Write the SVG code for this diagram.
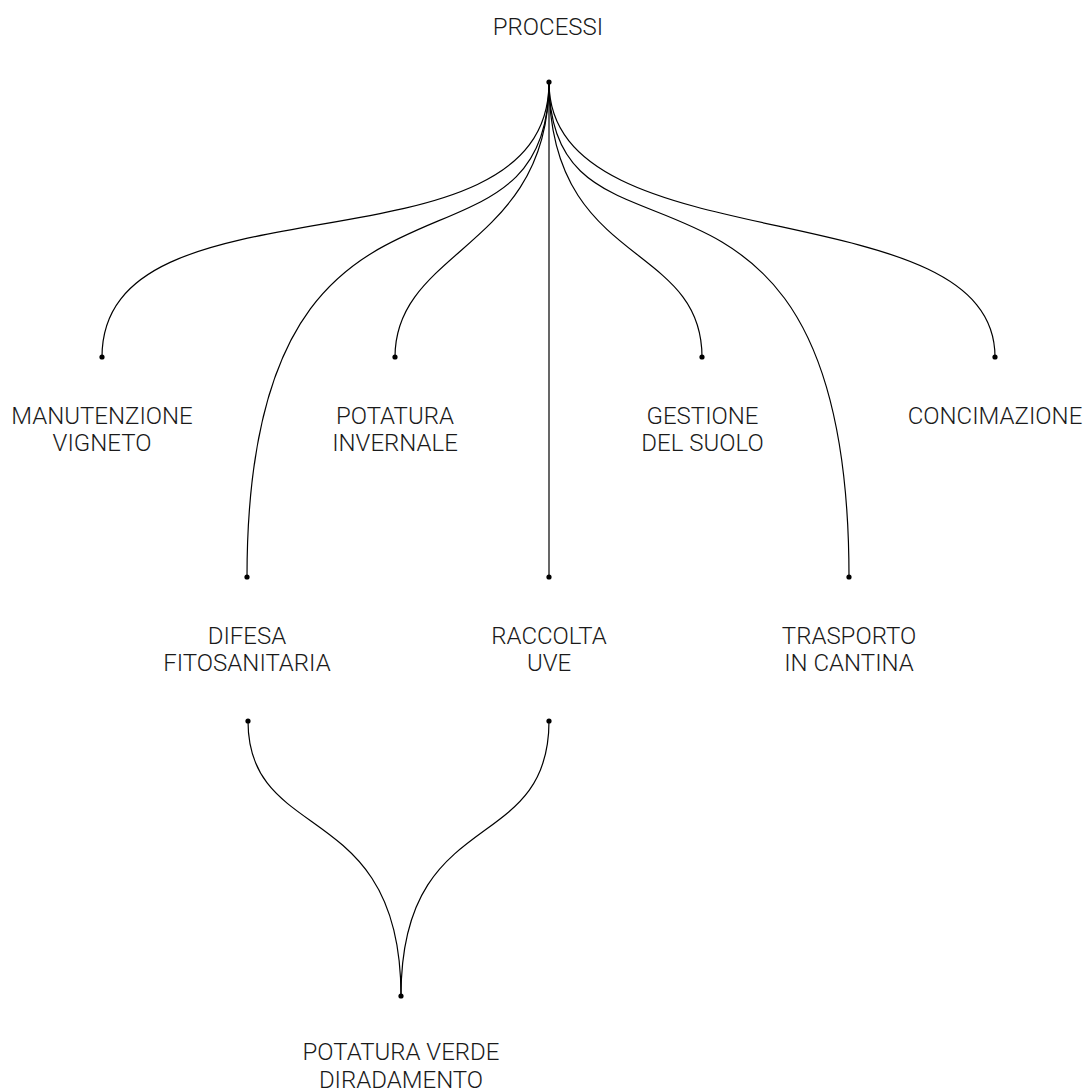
<svg xmlns="http://www.w3.org/2000/svg" width="1083" height="1092" viewBox="0 0 1083 1092">
  <style>
    .lbl { font-family: Roboto, "Liberation Sans", sans-serif; font-weight: 300; font-size: 24px; fill: #1a1a1a; text-anchor: middle; }
    .link { fill: none; stroke: #000; stroke-width: 1.2; }
    .dot { fill: #000; }
  </style>
  <rect width="1083" height="1092" fill="#fff"/>
  <g id="connectors">
    <path class="link" d="M549,82 C549,285 102,165 102,357"/>
    <path class="link" d="M549,82 C549,308 247,109 247,577"/>
    <path class="link" d="M549,82 C549,248 395,248 395,357"/>
    <path class="link" d="M549,82 L549,577"/>
    <path class="link" d="M549,82 C549,268 702,240 702,357"/>
    <path class="link" d="M549,82 C549,300 849,93 849,577"/>
    <path class="link" d="M549,82 C549,267 995,186 995,357"/>
    <path class="link" d="M248,721 C248,846 401,797 401,996"/>
    <path class="link" d="M549,721 C549,858 401,803 401,996"/>
  </g>
  <g id="processi">
    <text class="lbl" x="548" y="35">PROCESSI</text>
    <circle class="dot" cx="549" cy="82" r="2.6"/>
  </g>
  <g id="manutenzione-vigneto">
    <circle class="dot" cx="102" cy="357" r="2.6"/>
    <text class="lbl" x="102" y="423.5">MANUTENZIONE</text>
    <text class="lbl" x="102" y="451">VIGNETO</text>
  </g>
  <g id="potatura-invernale">
    <circle class="dot" cx="395" cy="357" r="2.6"/>
    <text class="lbl" x="395" y="423.5">POTATURA</text>
    <text class="lbl" x="395" y="451">INVERNALE</text>
  </g>
  <g id="gestione-del-suolo">
    <circle class="dot" cx="702" cy="357" r="2.6"/>
    <text class="lbl" x="702.5" y="423.5">GESTIONE</text>
    <text class="lbl" x="702.5" y="451">DEL SUOLO</text>
  </g>
  <g id="concimazione">
    <circle class="dot" cx="995" cy="357" r="2.6"/>
    <text class="lbl" x="995" y="423.5">CONCIMAZIONE</text>
  </g>
  <g id="difesa-fitosanitaria">
    <circle class="dot" cx="247" cy="577" r="2.6"/>
    <text class="lbl" x="247" y="643.5">DIFESA</text>
    <text class="lbl" x="247" y="671">FITOSANITARIA</text>
    <circle class="dot" cx="248" cy="721" r="2.6"/>
  </g>
  <g id="raccolta-uve">
    <circle class="dot" cx="549" cy="577" r="2.6"/>
    <text class="lbl" x="549" y="643.5">RACCOLTA</text>
    <text class="lbl" x="549" y="671">UVE</text>
    <circle class="dot" cx="549" cy="721" r="2.6"/>
  </g>
  <g id="trasporto-in-cantina">
    <circle class="dot" cx="849" cy="577" r="2.6"/>
    <text class="lbl" x="849" y="643.5">TRASPORTO</text>
    <text class="lbl" x="849" y="671">IN CANTINA</text>
  </g>
  <g id="potatura-verde-diradamento">
    <circle class="dot" cx="401" cy="996" r="2.6"/>
    <text class="lbl" x="401" y="1060">POTATURA VERDE</text>
    <text class="lbl" x="401" y="1087.5">DIRADAMENTO</text>
  </g>
</svg>
